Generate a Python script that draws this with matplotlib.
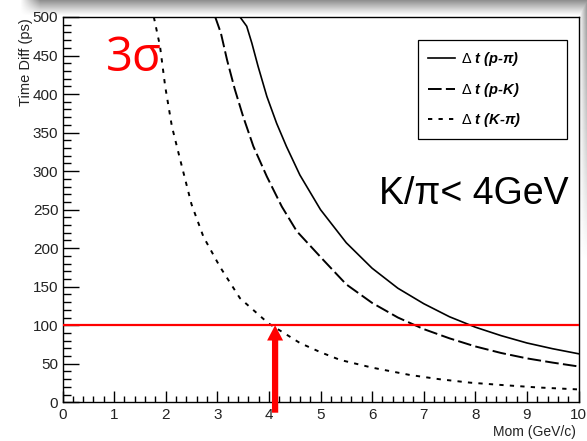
import numpy as np
import matplotlib
matplotlib.use("Agg")
import matplotlib.pyplot as plt
from matplotlib.ticker import MultipleLocator

plt.rcParams['font.family'] = ['Liberation Sans', 'DejaVu Sans']
plt.rcParams['mathtext.fontset'] = 'custom'
plt.rcParams['mathtext.rm'] = 'Liberation Sans'

# Time difference (ps) between particle species vs momentum (GeV/c)
mom_p_pi = [3.44, 3.57, 3.67, 3.79, 3.96, 4.15, 4.34, 4.60, 5.0, 5.5, 6.0, 6.5,
            7.0, 7.5, 8.0, 8.5, 9.0, 9.5, 10.0]
dt_p_pi = [500, 488, 466, 436, 397, 362, 332, 295, 250, 207, 174, 148,
           128, 111, 97.5, 86.5, 77, 69.5, 63]

mom_p_k = [2.96, 3.07, 3.19, 3.34, 3.50, 3.70, 3.96, 4.25, 4.54, 5.05, 5.5, 6.0,
           6.5, 7.0, 7.5, 8.0, 8.5, 9.0, 9.5, 10.0]
dt_p_k = [500, 479, 444, 406, 371, 332, 293, 254, 222, 185, 153, 129,
          110, 95, 83, 72.5, 64, 57, 51.5, 46.5]

mom_k_pi = [1.77, 1.89, 1.99, 2.12, 2.28, 2.50, 2.73, 3.05, 3.44, 3.99, 4.41, 4.60,
            5.0, 5.38, 6.0, 6.73, 7.3, 7.9, 8.5, 9.2, 10.0]
dt_k_pi = [500, 462, 410, 358, 315, 257, 215, 176, 135, 102.5, 85, 77,
           65, 55, 45, 35.5, 30, 25.5, 22.5, 19.3, 16.7]

threshold = 100          # 3 sigma separation level (ps)
k_pi_limit = 4.12        # momentum where K/pi separation reaches the threshold

W, H, DPI = 587, 441, 100
fig = plt.figure(figsize=(W / DPI, H / DPI), dpi=DPI)

# soft drop shadow along the top and right edges of the canvas
yy, xx = np.mgrid[0:H, 0:W].astype(float)
top = np.clip((15.0 - yy) / 15.0, 0, 1) ** 1.1 * np.clip((xx - 20) / 20.0, 0, 1)
right = np.clip((xx - 579) / 8.0, 0, 1) * np.clip((260 - yy) / 260.0, 0, 1)
alpha = np.clip(np.maximum(top, right) * 0.62, 0, 1)
shadow = np.zeros((H, W, 4))
shadow[..., :3] = 0.3
shadow[..., 3] = alpha
fig.figimage(shadow, xo=0, yo=0, origin='upper', zorder=0)

ax = fig.add_axes([62.5 / W, 1 - 402.3 / H, 516 / W, 385.3 / H], zorder=1)

ax.plot(mom_p_pi, dt_p_pi, color='black', lw=1.2, ls='-', label=r'$\Delta$ t (p-π)')
ax.plot(mom_p_k, dt_p_k, color='black', lw=1.4, ls=(0, (7, 2.2)), label=r'$\Delta$ t (p-K)')
ax.plot(mom_k_pi, dt_k_pi, color='black', lw=1.4, ls=(0, (2.2, 3.2)), label=r'$\Delta$ t (K-π)')

ax.axhline(threshold, color='red', lw=1.6, zorder=3)
ax.annotate('', xy=(k_pi_limit, threshold), xytext=(k_pi_limit, -13.5),
            xycoords='data', annotation_clip=False,
            arrowprops=dict(arrowstyle='simple,head_length=1.1,head_width=1.15,tail_width=0.45',
                            mutation_scale=10, color='red', lw=0,
                            shrinkA=0, shrinkB=0), zorder=4)

ax.set_xlim(0, 10)
ax.set_ylim(0, 500)

ax.xaxis.set_major_locator(MultipleLocator(1))
ax.xaxis.set_minor_locator(MultipleLocator(0.2))
ax.yaxis.set_major_locator(MultipleLocator(50))
ax.yaxis.set_minor_locator(MultipleLocator(10))
ax.tick_params(axis='both', which='both', direction='in', top=False, right=False,
               colors='black', width=1.0)
ax.tick_params(axis='x', which='major', length=8, pad=4, labelsize=11)
ax.tick_params(axis='x', which='minor', length=4.3)
ax.tick_params(axis='y', which='major', length=11.5, pad=3, labelsize=11)
ax.tick_params(axis='y', which='minor', length=5.8)
for lab in ax.get_xticklabels() + ax.get_yticklabels():
    lab.set_color('#222222')
for sp in ax.spines.values():
    sp.set_linewidth(1.0)

fig.text(26 / W, 1 - 18 / H, 'Time Diff (ps)', rotation=90, ha='center', va='top',
         fontsize=10.5, color='#222222')
fig.text(576 / W, 1 - 439 / H, 'Mom (GeV/c)', ha='right', va='bottom',
         fontsize=10, color='#222222')

ax.text(106 / W, 1 - 71 / H, '3σ', transform=fig.transFigure, color='red',
        fontsize=34, family=['Open Sans', 'DejaVu Sans'], ha='left', va='baseline')
ax.text(569 / W, 1 - 204 / H, 'K/π< 4GeV', transform=fig.transFigure, color='black',
        fontsize=27, ha='right', va='baseline')

leg = ax.legend(loc='upper left', bbox_to_anchor=(0.688, 0.689, 0.289, 0.251),
                mode='expand', frameon=True, fancybox=False, edgecolor='black',
                framealpha=1, handlelength=1.9, handletextpad=0.35, labelspacing=0.85,
                borderpad=0.7, borderaxespad=0,
                prop=dict(family='Liberation Sans', weight='bold', style='italic', size=10.5))
leg.get_frame().set_linewidth(0.9)

fig.savefig('out.png', dpi=DPI)
